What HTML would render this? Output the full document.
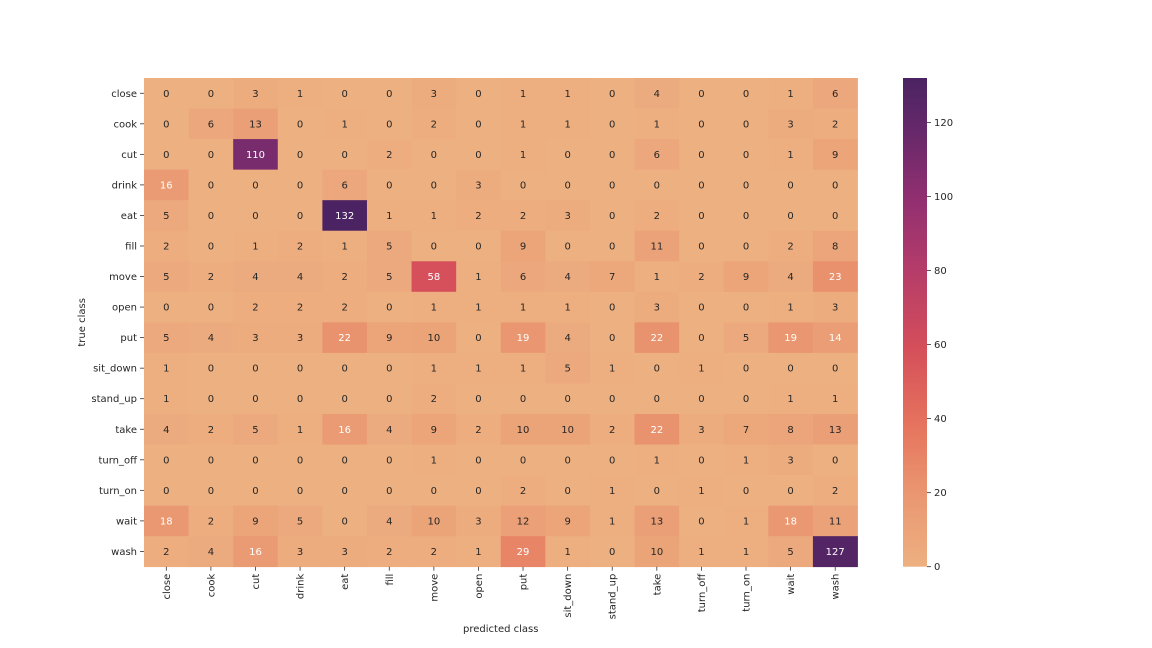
<!DOCTYPE html>
<html><head><meta charset="utf-8"><style>
html,body{margin:0;padding:0;background:#fff;}
svg{display:block;font-family:"DejaVu Sans","Liberation Sans",sans-serif;}
</style></head><body>
<svg id="chart" width="1152" height="648" viewBox="0 0 1152 648" xmlns="http://www.w3.org/2000/svg">
<defs>
<linearGradient id="cbgrad" x1="0" y1="1" x2="0" y2="0"></linearGradient>
</defs>
</svg>
<script>
const classes = ["close","cook","cut","drink","eat","fill","move","open","put","sit_down","stand_up","take","turn_off","turn_on","wait","wash"];
const row_close   = [0,0,3,1,0,0,3,0,1,1,0,4,0,0,1,6];
const row_cook    = [0,6,13,0,1,0,2,0,1,1,0,1,0,0,3,2];
const row_cut     = [0,0,110,0,0,2,0,0,1,0,0,6,0,0,1,9];
const row_drink   = [16,0,0,0,6,0,0,3,0,0,0,0,0,0,0,0];
const row_eat     = [5,0,0,0,132,1,1,2,2,3,0,2,0,0,0,0];
const row_fill    = [2,0,1,2,1,5,0,0,9,0,0,11,0,0,2,8];
const row_move    = [5,2,4,4,2,5,58,1,6,4,7,1,2,9,4,23];
const row_open    = [0,0,2,2,2,0,1,1,1,1,0,3,0,0,1,3];
const row_put     = [5,4,3,3,22,9,10,0,19,4,0,22,0,5,19,14];
const row_sitdown = [1,0,0,0,0,0,1,1,1,5,1,0,1,0,0,0];
const row_standup = [1,0,0,0,0,0,2,0,0,0,0,0,0,0,1,1];
const row_take    = [4,2,5,1,16,4,9,2,10,10,2,22,3,7,8,13];
const row_turnoff = [0,0,0,0,0,0,1,0,0,0,0,1,0,1,3,0];
const row_turnon  = [0,0,0,0,0,0,0,0,2,0,1,0,1,0,0,2];
const row_wait    = [18,2,9,5,0,4,10,3,12,9,1,13,0,1,18,11];
const row_wash    = [2,4,16,3,3,2,2,1,29,1,0,10,1,1,5,127];
const matrix = [row_close,row_cook,row_cut,row_drink,row_eat,row_fill,row_move,row_open,row_put,row_sitdown,row_standup,row_take,row_turnoff,row_turnon,row_wait,row_wash];
const cbTicks = [0,20,40,60,80,100,120];

const NS="http://www.w3.org/2000/svg";
const svg=document.getElementById('chart');
const L=144,R=857.5,T=78,B=566.7;
const n=classes.length;
const cw=(R-L)/n, ch=(B-T)/n;
let vmax=0; matrix.forEach(r=>r.forEach(v=>{if(v>vmax)vmax=v;}));
const stops=[[0,[237,176,129]],[0.15,[234,150,112]],[0.3,[229,113,93]],[0.45,[212,78,90]],[0.6,[182,61,105]],[0.75,[146,47,113]],[0.9,[100,40,105]],[1,[75,35,98]]];
function color(v){
  const t=Math.max(0,Math.min(1,v/vmax));
  for(let i=1;i<stops.length;i++){
    if(t<=stops[i][0]){
      const a=stops[i-1],b=stops[i];const f=(t-a[0])/(b[0]-a[0]);
      const c=a[1].map((x,k)=>Math.round(x+(b[1][k]-x)*f));
      return `rgb(${c[0]},${c[1]},${c[2]})`;
    }
  }
  return 'rgb(75,35,98)';
}
function xPos(j){return L+j*cw;}
function yPos(i){return T+i*ch;}
function mk(tag,attrs){const e=document.createElementNS(NS,tag);for(const k in attrs)e.setAttribute(k,attrs[k]);svg.appendChild(e);return e;}

for(let i=0;i<n;i++){
  for(let j=0;j<n;j++){
    const v=matrix[i][j];
    const r=mk('rect',{x:xPos(j),y:yPos(i),width:cw+0.4,height:ch+0.4,fill:color(v)});
    
    
    const t=mk('text',{x:xPos(j)+cw/2,y:yPos(i)+ch/2+3.5,'text-anchor':'middle','font-size':'10',fill:v>=14?'#ffffff':'#262626'});
    t.textContent=v;
    
    
  }
}
// y labels
for(let i=0;i<n;i++){
  const y=yPos(i)+ch/2;
  const tk=mk('line',{x1:L-4,x2:L,y1:y,y2:y,stroke:'#333','stroke-width':0.8});
  
  
  const t=mk('text',{x:L-7,y:y+3.5,'text-anchor':'end','font-size':'10',fill:'#262626'});
  t.textContent=classes[i];
  
  
}
// x labels
for(let j=0;j<n;j++){
  const x=xPos(j)+cw/2;
  const tk=mk('line',{x1:x,x2:x,y1:B,y2:B+4,stroke:'#333','stroke-width':0.8});
  
  
  const t=mk('text',{x:0,y:0,'text-anchor':'end','font-size':'10',fill:'#262626',transform:`translate(${x+3.5},${B+7}) rotate(-90)`});
  t.textContent=classes[j];
  
  
}
const xt=mk('text',{x:(L+R)/2,y:632,'text-anchor':'middle','font-size':'10',fill:'#262626'});
xt.textContent='predicted class';


const yt=mk('text',{x:0,y:0,'text-anchor':'middle','font-size':'10',fill:'#262626',transform:`translate(85,${(T+B)/2}) rotate(-90)`});
yt.textContent='true class';



// colorbar
const grad=document.getElementById('cbgrad');
for(let k=0;k<=20;k++){const s=document.createElementNS(NS,'stop');s.setAttribute('offset',k/20);s.setAttribute('stop-color',color(vmax*k/20));grad.appendChild(s);}
const CBL=903,CBW=24;
function cbY(v){return B-(v/vmax)*(B-T);}
const cb=mk('rect',{x:CBL,y:T,width:CBW,height:B-T,fill:'url(#cbgrad)'});


cbTicks.forEach(v=>{
  const y=cbY(v);
  const tk=mk('line',{x1:CBL+CBW,x2:CBL+CBW+4,y1:y,y2:y,stroke:'#333','stroke-width':0.8});
  
  
  const t=mk('text',{x:CBL+CBW+7,y:y+3.5,'font-size':'10',fill:'#262626'});
  t.textContent=v;
  
  
});
</script>
</body></html>
